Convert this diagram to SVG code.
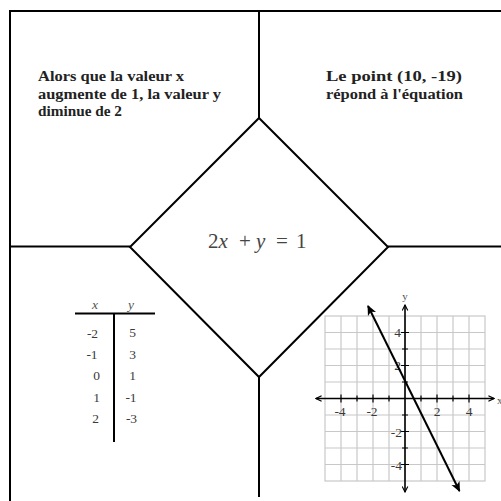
<svg xmlns="http://www.w3.org/2000/svg" width="501" height="501" viewBox="0 0 501 501">
<defs>
<style>
.frame{stroke:#000;stroke-width:2;fill:none}
.bold{font-family:"Liberation Serif","DejaVu Serif",serif;font-weight:bold;font-size:15px;fill:#222}
.num{font-family:"Liberation Serif","DejaVu Serif",serif;font-size:13.5px;fill:#3a3a3a}
.it{font-style:italic}
.grid{stroke:#c8c8c8;stroke-width:1.2;fill:none}
.axis{stroke:#000;stroke-width:1.6;fill:none}
.tick{stroke:#000;stroke-width:1.2}
</style>
<marker id="open" viewBox="0 0 10 10" refX="9" refY="5" markerWidth="7" markerHeight="7" orient="auto-start-reverse" markerUnits="userSpaceOnUse">
<path d="M1,1 L9,5 L1,9" fill="none" stroke="#000" stroke-width="1.6"/>
</marker>
<marker id="solid" viewBox="0 0 10 10" refX="9" refY="5" markerWidth="10" markerHeight="10" orient="auto-start-reverse" markerUnits="userSpaceOnUse">
<path d="M0,0.5 L10,5 L0,9.5 L2.5,5 Z" fill="#000"/>
</marker>
</defs>
<rect width="501" height="501" fill="#fff"/>
<g id="connectors">
<polyline class="frame" points="10,501 10,11 501,11"/>
<line class="frame" x1="259" y1="11" x2="259" y2="118"/>
<line class="frame" x1="10" y1="246.5" x2="130" y2="246.5"/>
<line class="frame" x1="388" y1="246.5" x2="501" y2="246.5"/>
<line class="frame" x1="259" y1="377" x2="259" y2="497"/>
</g>
<g id="center-equation">
<polygon class="frame" points="259,118 388,247 259,377 130,247"/>
<text y="248" font-family="Liberation Serif, DejaVu Serif, serif" font-size="21" fill="#444"><tspan x="208">2</tspan><tspan class="it">x</tspan><tspan x="239">+</tspan><tspan class="it" x="256">y</tspan><tspan x="276">=</tspan><tspan x="296">1</tspan></text>
</g>
<g id="text-slope">
<text class="bold" x="38" y="81" textLength="146" lengthAdjust="spacingAndGlyphs">Alors que la valeur x</text>
<text class="bold" x="38" y="98.5" textLength="183" lengthAdjust="spacingAndGlyphs">augmente de 1, la valeur y</text>
<text class="bold" x="38" y="116" textLength="84" lengthAdjust="spacingAndGlyphs">diminue de 2</text>
</g>
<g id="text-point">
<text class="bold" x="326" y="81" textLength="136" lengthAdjust="spacingAndGlyphs">Le point (10, -19)</text>
<text class="bold" x="326" y="98.5" textLength="137" lengthAdjust="spacingAndGlyphs">répond à l'équation</text>
</g>
<g id="table">
<line x1="75" y1="313.5" x2="155" y2="313.5" stroke="#000" stroke-width="2"/>
<line x1="114" y1="313" x2="114" y2="442" stroke="#000" stroke-width="2"/>
<g class="num" text-anchor="middle">
<text class="it" x="95" y="309" fill="#555">x</text>
<text class="it" x="131" y="309" fill="#555">y</text>
<text x="92.5" y="338">-2</text><text x="132.5" y="337">5</text>
<text x="92" y="359">-1</text><text x="132.5" y="359">3</text>
<text x="96.5" y="380">0</text><text x="132.5" y="380">1</text>
<text x="96.5" y="402">1</text><text x="131" y="402">-1</text>
<text x="95.5" y="423">2</text><text x="131.5" y="423">-3</text>
</g>
</g>
<g id="graph">
<g class="grid">
<rect x="325" y="316" width="160" height="165"/>
<path d="M341,316V481M357,316V481M373,316V481M389,316V481M405,316V481M421,316V481M437,316V481M453,316V481M469,316V481"/>
<path d="M325,332.5H485M325,349H485M325,365.5H485M325,382H485M325,398.5H485M325,415H485M325,431.5H485M325,448H485M325,464.5H485"/>
</g>
<line class="axis" x1="316" y1="398.5" x2="494" y2="398.5" marker-start="url(#open)" marker-end="url(#open)"/>
<line class="axis" x1="405" y1="305" x2="405" y2="492" marker-start="url(#open)" marker-end="url(#open)"/>
<path class="tick" d="M341,394.5v8M357,395.5v6M373,394.5v8M389,395.5v6M421,395.5v6M437,394.5v8M453,395.5v6M469,394.5v8"/>
<path class="tick" d="M401,332.5h8M402,349h6M401,365.5h8M402,382h6M402,415h6M401,431.5h8M402,448h6M401,464.5h8"/>
<g class="num" text-anchor="middle">
<text x="340" y="415.5">-4</text>
<text x="372" y="415.5">-2</text>
<text x="437" y="415.5">2</text>
<text x="469" y="415.5">4</text>
</g>
<g class="num" text-anchor="end">
<text x="401" y="337">4</text>
<text x="401" y="370">2</text>
<text x="402" y="437">-2</text>
<text x="402" y="470">-4</text>
</g>
<text x="405" y="300" text-anchor="middle" font-family="Liberation Serif, DejaVu Serif, serif" font-size="11" fill="#555">y</text>
<text x="497" y="404" font-family="Liberation Serif, DejaVu Serif, serif" font-size="11" fill="#555">x</text>
<line x1="368" y1="306" x2="459.5" y2="491" stroke="#000" stroke-width="2" marker-start="url(#solid)" marker-end="url(#solid)"/>
</g>
</svg>
